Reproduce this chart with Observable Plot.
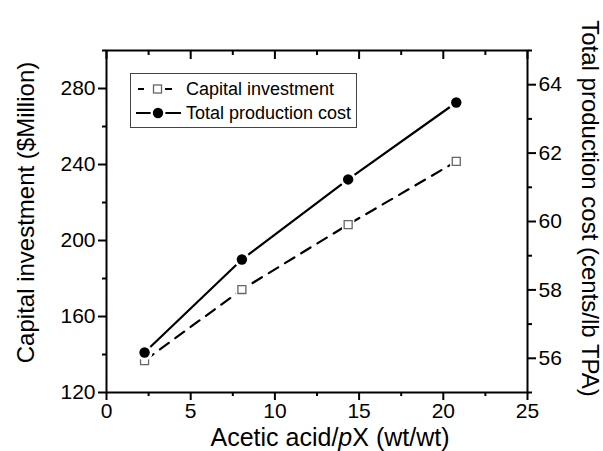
<!DOCTYPE html>
<html><head><meta charset="utf-8">
<script src="https://cdn.jsdelivr.net/npm/d3@7"></script>
<script src="https://cdn.jsdelivr.net/npm/@observablehq/plot@0.6"></script>
<style>
body{margin:0;background:#fff;}
#wrap{position:relative;width:603px;height:451px;font-family:"Liberation Sans",Arial,sans-serif;}
#legend{position:absolute;left:130px;top:73px;width:227px;height:55px;border:1px solid #444;background:#fff;box-sizing:border-box;font-size:18px;color:#000;}
#legend .row{position:absolute;left:0;height:22px;display:flex;align-items:center;}
#legend svg{width:52px;height:22px;}
#legend span{margin-left:3px;}
</style></head><body>
<div id="wrap"></div>
<script>
const ratio = [2.26, 8.04, 14.35, 20.77];
const capitalInvestment = [136.8, 174.2, 208.4, 241.6];
const productionCost = [56.17, 58.89, 61.23, 63.48];
const xTicks = [0, 5, 10, 15, 20, 25];
const xMinor = [2.5, 7.5, 12.5, 17.5, 22.5];
const leftTicks = [120, 160, 200, 240, 280];
const leftMinor = [140, 180, 220, 260, 300];
const rightTicks = [56, 58, 60, 62, 64];
const rightMinor = [55, 57, 59, 61, 63, 65];
const seriesNames = ["Capital investment", "Total production cost"];
const xTitle = "Acetic acid/pX (wt/wt)";
const leftTitle = "Capital investment ($Million)";
const rightTitle = "Total production cost (cents/lb TPA)";

const leftDomain = [120, 300];
const rightDomain = [55, 65];
const k = (leftDomain[1] - leftDomain[0]) / (rightDomain[1] - rightDomain[0]);
const toLeft = v => leftDomain[0] + (v - rightDomain[0]) * k;
const fromLeft = v => rightDomain[0] + (v - leftDomain[0]) / k;

const rows = ratio.map((x, i) => ({x, capital: capitalInvestment[i], cost: toLeft(productionCost[i])}));
const blank = () => "";

const chart = Plot.plot({
  width: 603, height: 451,
  marginLeft: 106, marginRight: 76, marginTop: 50, marginBottom: 59,
  style: {fontFamily: "'Liberation Sans', Arial, sans-serif", fontSize: "21px", color: "#000", background: "#fff"},
  x: {domain: [0, 25]},
  y: {domain: leftDomain},
  marks: [
    Plot.axisX({anchor: "bottom", ticks: xTicks, tickSize: 8, tickPadding: 3, fontSize: 21, label: null, strokeWidth: 2}),
    Plot.axisX({anchor: "bottom", ticks: xMinor, tickSize: 4, tickFormat: blank, label: null, strokeWidth: 2}),
    Plot.axisX({anchor: "top", ticks: xTicks, tickSize: -8, tickFormat: blank, label: null, strokeWidth: 2}),
    Plot.axisX({anchor: "top", ticks: xMinor, tickSize: -4, tickFormat: blank, label: null, strokeWidth: 2}),
    Plot.axisY({anchor: "left", ticks: leftTicks, tickSize: 8, tickPadding: 3, fontSize: 21, label: null, strokeWidth: 2}),
    Plot.axisY({anchor: "left", ticks: leftMinor, tickSize: 4, tickFormat: blank, label: null, strokeWidth: 2}),
    Plot.axisY({anchor: "right", ticks: rightTicks.map(toLeft), tickFormat: d => String(Math.round(fromLeft(d))), tickSize: 8, tickPadding: 3, fontSize: 21, label: null, strokeWidth: 2}),
    Plot.axisY({anchor: "right", ticks: rightMinor.map(toLeft), tickSize: 4, tickFormat: blank, label: null, strokeWidth: 2}),
    Plot.frame({stroke: "#000", strokeWidth: 2}),
    Plot.line(rows, {x: "x", y: "capital", stroke: "#000", strokeWidth: 2.2, strokeDasharray: "11,8"}),
    Plot.line(rows, {x: "x", y: "cost", stroke: "#000", strokeWidth: 2.2}),
    Plot.dot(rows, {x: "x", y: "capital", symbol: "square", r: 7, fill: "#fff"}),
    Plot.dot(rows, {x: "x", y: "capital", symbol: "square", r: 4.5, fill: "#fff", stroke: "#666", strokeWidth: 1.3}),
    Plot.dot(rows, {x: "x", y: "cost", r: 8, fill: "#fff"}),
    Plot.dot(rows, {x: "x", y: "cost", r: 5.2, fill: "#000"}),
    Plot.text([xTitle], {frameAnchor: "bottom", dx: 13, dy: 45, fontSize: 25, lineAnchor: "middle", textAnchor: "middle"}),
    Plot.text([leftTitle], {frameAnchor: "left", dx: -80, dy: -9, rotate: -90, fontSize: 24, lineAnchor: "middle", textAnchor: "middle"}),
    Plot.text([rightTitle], {frameAnchor: "right", dx: 62, dy: -13, rotate: 90, fontSize: 24, lineAnchor: "middle", textAnchor: "middle"})
  ]
});

const wrap = document.getElementById("wrap");
wrap.appendChild(chart);

// italic p in "pX"
d3.select(chart).selectAll("text").filter(function() { return this.textContent === xTitle; })
  .each(function() {
    const t = d3.select(this);
    t.text(null);
    t.append("tspan").text("Acetic acid/");
    t.append("tspan").attr("font-style", "italic").text("p");
    t.append("tspan").text("X (wt/wt)");
  });

// legend
const legend = document.createElement("div");
legend.id = "legend";
const sym = [
  `<svg viewBox="0 0 52 22"><line x1="7" x2="47" y1="11" y2="11" stroke="#000" stroke-width="2.2" stroke-dasharray="7,7" stroke-dashoffset="1"/><rect x="22" y="6.5" width="9" height="9" fill="#fff" stroke="#fff" stroke-width="6"/><rect x="22.5" y="7" width="8" height="8" fill="#fff" stroke="#666" stroke-width="1.3"/></svg>`,
  `<svg viewBox="0 0 52 22"><line x1="5" x2="50" y1="11" y2="11" stroke="#000" stroke-width="2.2"/><circle cx="27" cy="11" r="7.5" fill="#fff"/><circle cx="27" cy="11" r="5.2" fill="#000"/></svg>`
];
seriesNames.forEach((name, i) => {
  const row = document.createElement("div");
  row.className = "row";
  row.style.top = (4 + i * 24) + "px";
  row.innerHTML = sym[i] + `<span>${name}</span>`;
  legend.appendChild(row);
});
wrap.appendChild(legend);
</script>
</body></html>
